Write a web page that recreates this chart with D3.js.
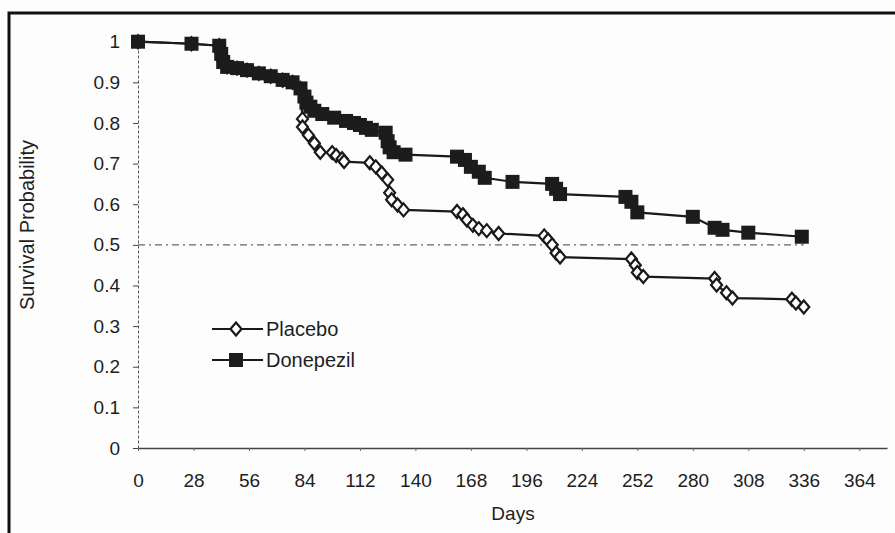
<!DOCTYPE html>
<html>
<head>
    <title>Survival Probability</title>
    <script src="https://cdn.jsdelivr.net/npm/d3@7/dist/d3.min.js"></script>
    <style>
        body { margin: 0; background: #fdfdfd; }
        svg { display: block; font-family: "Liberation Sans", Arial, sans-serif; }
        .tick text { fill: #1e1e1e; }
    </style>
</head>
<body>
    <div id="chart"></div>

    <script>
        // 读图得到的数据
        const placeboDays = [0, 27, 41, 42, 43, 45, 50, 55, 61, 67, 73, 78, 82, 83, 83, 86, 89, 92, 98, 100, 103, 104, 117, 120, 123, 126, 127, 128, 131, 134, 161, 164, 166, 169, 172, 176, 182, 205, 207, 209, 211, 213, 249, 251, 252, 255, 291, 292, 297, 300, 330, 332, 336];
        const placeboValues = [1.0, 0.995, 0.99, 0.97, 0.95, 0.938, 0.935, 0.93, 0.922, 0.915, 0.905, 0.9, 0.885, 0.81, 0.79, 0.77, 0.75, 0.728, 0.727, 0.72, 0.712, 0.705, 0.702, 0.692, 0.677, 0.66, 0.628, 0.611, 0.598, 0.586, 0.582, 0.574, 0.561, 0.548, 0.54, 0.535, 0.528, 0.522, 0.512, 0.5, 0.48, 0.47, 0.465, 0.45, 0.432, 0.422, 0.417, 0.401, 0.382, 0.369, 0.366, 0.357, 0.347];

        const donepezilDays = [0, 27, 41, 42, 43, 45, 50, 55, 61, 67, 73, 78, 82, 84, 85, 87, 89, 93, 99, 105, 109, 112, 115, 118, 125, 126, 127, 129, 135, 161, 165, 168, 172, 175, 189, 209, 211, 213, 246, 249, 252, 280, 291, 295, 308, 335];
        const donepezilValues = [1.0, 0.995, 0.99, 0.97, 0.95, 0.938, 0.935, 0.93, 0.922, 0.915, 0.906, 0.9, 0.885, 0.865, 0.85, 0.84, 0.83, 0.822, 0.813, 0.805, 0.8, 0.795, 0.788, 0.783, 0.776, 0.755, 0.74, 0.728, 0.722, 0.717, 0.709, 0.692, 0.68, 0.665, 0.655, 0.65, 0.638, 0.625, 0.618, 0.606, 0.58, 0.569, 0.542, 0.537, 0.53, 0.52];

        const xTicks = [0, 28, 56, 84, 112, 140, 168, 196, 224, 252, 280, 308, 336, 364];
        const yTicks = [0, 0.1, 0.2, 0.3, 0.4, 0.5, 0.6, 0.7, 0.8, 0.9, 1];
        const yTickLabels = ["0", "0.1", "0.2", "0.3", "0.4", "0.5", "0.6", "0.7", "0.8", "0.9", "1"];
        const refLine = [0.5];
        const refEnd = 336;
        const seriesNames = ["Placebo", "Donepezil"];

        const W = 895, H = 533;
        const FS = 19;
        const svg = d3.select("#chart").append("svg").attr("width", W).attr("height", H);

        const x = d3.scaleLinear().domain([0, 378]).range([138, 887]);
        const y = d3.scaleLinear().domain([0, 1]).range([448, 41.7]);

        // 外框
        svg.append("path")
            .attr("d", `M9,${H + 5} L9,13 L${W + 5},13`)
            .attr("fill", "none").attr("stroke", "#111").attr("stroke-width", 3);

        // 坐标轴
        const yAxis = svg.append("g")
            .attr("transform", `translate(${x(0)},0)`)
            .call(d3.axisLeft(y).tickValues(yTicks).tickSize(5).tickSizeOuter(0)
                .tickFormat((d, i) => yTickLabels[i]));
        yAxis.select(".domain").attr("stroke", "#555").attr("stroke-dasharray", "3,2");
        yAxis.selectAll(".tick line").attr("stroke", "#444");
        yAxis.selectAll(".tick text").attr("font-size", FS).attr("x", -18);

        const xAxis = svg.append("g")
            .attr("transform", `translate(0,${y(0)})`)
            .call(d3.axisBottom(x).tickValues(xTicks).tickSize(3).tickSizeOuter(0));
        xAxis.select(".domain").attr("stroke", "#444").attr("stroke-width", 1.3);
        xAxis.selectAll(".tick line").attr("stroke", "#666");
        xAxis.selectAll(".tick text").attr("font-size", FS).attr("y", 26);

        // 0.5 参考线
        svg.selectAll(".ref").data(refLine).enter().append("line")
            .attr("x1", x(0)).attr("x2", x(refEnd))
            .attr("y1", d => y(d)).attr("y2", d => y(d))
            .attr("stroke", "#666").attr("stroke-width", 1.2)
            .attr("stroke-dasharray", "7,4,2,4");

        const line = d3.line().x(d => x(d[0])).y(d => y(d[1]));
        const placebo = placeboDays.map((d, i) => [d, placeboValues[i]]);
        const donepezil = donepezilDays.map((d, i) => [d, donepezilValues[i]]);

        const diamond = (g, cx, cy) => {
            g.append("path")
                .attr("d", `M${cx},${cy - 6.5} L${cx + 5.5},${cy} L${cx},${cy + 6.5} L${cx - 5.5},${cy} Z`)
                .attr("fill", "#fff").attr("stroke", "#1a1a1a").attr("stroke-width", 2.2);
        };
        const square = (g, cx, cy) => {
            g.append("rect")
                .attr("x", cx - 7).attr("y", cy - 7).attr("width", 14).attr("height", 14)
                .attr("fill", "#1c1c1c");
        };

        // 安慰剂
        svg.append("path").datum(placebo).attr("d", line)
            .attr("fill", "none").attr("stroke", "#1a1a1a").attr("stroke-width", 2.2);
        const gp = svg.append("g");
        placebo.forEach(d => diamond(gp, x(d[0]), y(d[1])));

        // 多奈哌齐
        svg.append("path").datum(donepezil).attr("d", line)
            .attr("fill", "none").attr("stroke", "#1a1a1a").attr("stroke-width", 2.2);
        const gd = svg.append("g");
        donepezil.forEach(d => square(gd, x(d[0]), y(d[1])));

        // 图例
        const leg = svg.append("g");
        [[seriesNames[0], 329, diamond], [seriesNames[1], 360, square]].forEach(([name, ly, mk]) => {
            leg.append("line").attr("x1", 212).attr("x2", 263).attr("y1", ly).attr("y2", ly)
                .attr("stroke", "#1a1a1a").attr("stroke-width", 2.2);
            mk(leg, 236, ly);
            leg.append("text").attr("x", 266).attr("y", ly + 7)
                .attr("font-size", FS + 1).attr("fill", "#1e1e1e").text(name);
        });

        // 轴标题
        svg.append("text").attr("transform", "translate(34,225) rotate(-90)")
            .attr("text-anchor", "middle").attr("font-size", FS + 1).attr("fill", "#1e1e1e")
            .text("Survival Probability");
        svg.append("text").attr("x", 513).attr("y", 520)
            .attr("text-anchor", "middle").attr("font-size", FS).attr("fill", "#1e1e1e")
            .text("Days");
    </script>
</body>
</html>
